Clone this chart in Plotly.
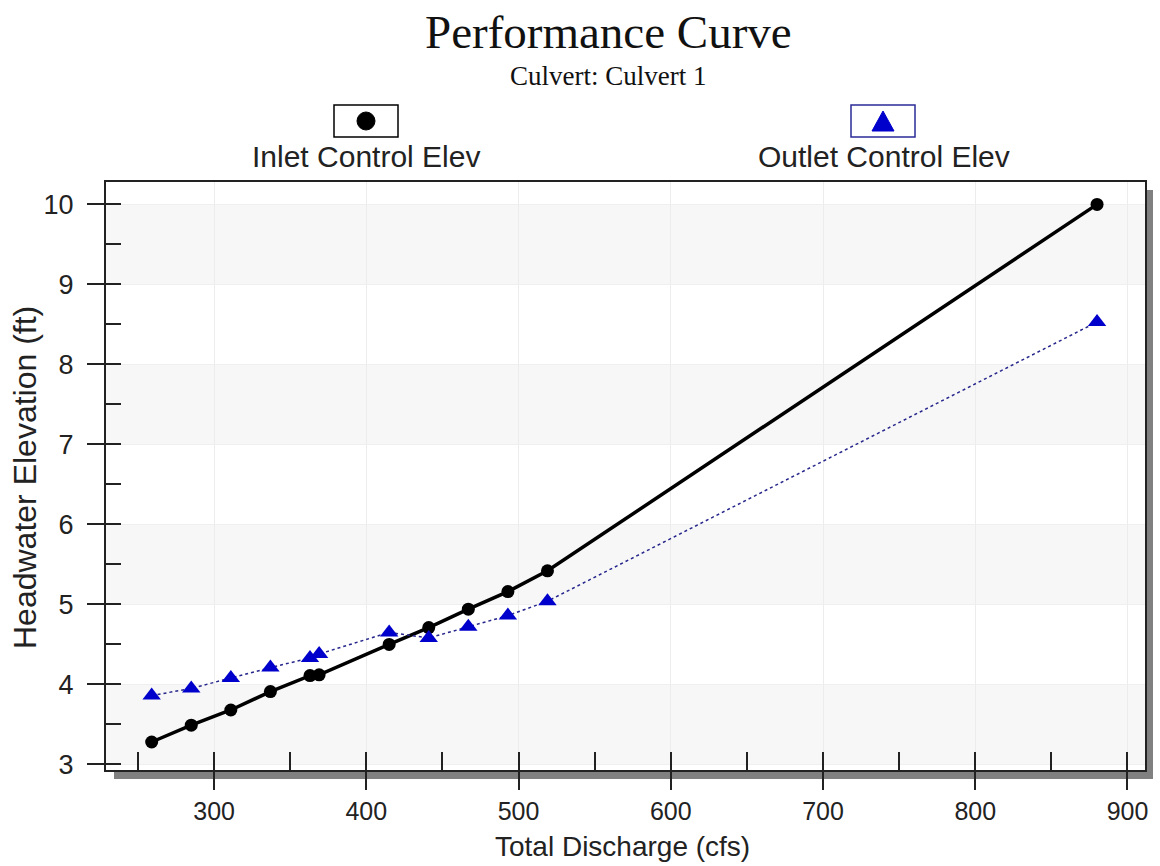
import plotly.graph_objects as go

# ---- data ----
discharge = [259, 285, 311, 337, 363, 369, 415, 441, 467, 493, 519, 880]
inlet_elev = [3.28, 3.49, 3.68, 3.91, 4.11, 4.12, 4.50, 4.71, 4.94, 5.16, 5.42, 10.0]
outlet_elev = [3.86, 3.95, 4.08, 4.21, 4.33, 4.38, 4.65, 4.58, 4.72, 4.86, 5.04, 8.53]
y_ticks = [3, 4, 5, 6, 7, 8, 9, 10]
x_ticks = [300, 400, 500, 600, 700, 800, 900]

W, H = 1160, 866
L, R, T, B = 106, 15, 182, 96
pw, ph = W - L - R, H - T - B

SANS = "Liberation Sans, Arial, sans-serif"
SERIF = "Liberation Serif, Times New Roman, serif"


def px(x):
    return (x - L) / pw


def py(y):
    return (H - B - y) / ph


fig = go.Figure()
fig.add_trace(go.Scatter(
    x=discharge, y=inlet_elev, mode="lines+markers", name="Inlet Control Elev",
    line=dict(color="black", width=3.5),
    marker=dict(symbol="circle", size=13, color="black"),
))
fig.add_trace(go.Scatter(
    x=discharge, y=outlet_elev, mode="lines+markers", name="Outlet Control Elev",
    line=dict(color="#26268c", width=1.5, dash="dot"),
    marker=dict(symbol="triangle-up", size=16, color="#0000cc"),
))

shapes = []
# drop shadow
shapes.append(dict(type="rect", xref="paper", yref="paper", layer="below",
                   x0=px(L + 8), x1=px(L + pw + 8), y0=py(T + 8), y1=py(T + ph + 9),
                   fillcolor="#808080", line=dict(width=0)))
shapes.append(dict(type="rect", xref="paper", yref="paper", layer="below",
                   x0=0, x1=1, y0=0, y1=1, fillcolor="white", line=dict(width=0)))
# alternating bands
for i in range(0, len(y_ticks) - 1, 2):
    shapes.append(dict(type="rect", xref="paper", yref="y", layer="below",
                       x0=0, x1=1, y0=y_ticks[i], y1=y_ticks[i + 1],
                       fillcolor="#f7f7f7", line=dict(width=0)))
# legend boxes
shapes.append(dict(type="rect", xref="paper", yref="paper",
                   x0=px(334), x1=px(398), y0=py(137), y1=py(105),
                   fillcolor="white", line=dict(color="black", width=1.5)))
shapes.append(dict(type="circle", xref="paper", yref="paper",
                   x0=px(357), x1=px(375), y0=py(130), y1=py(112),
                   fillcolor="black", line=dict(color="black", width=1)))
shapes.append(dict(type="rect", xref="paper", yref="paper",
                   x0=px(851), x1=px(915), y0=py(137), y1=py(105),
                   fillcolor="white", line=dict(color="#2b2b99", width=1.5)))
shapes.append(dict(type="path", xref="paper", yref="paper",
                   path=f"M {px(872)} {py(131)} L {px(894)} {py(131)} L {px(883)} {py(111)} Z",
                   fillcolor="#0000cc", line=dict(color="#0000cc", width=1)))

annotations = [
    dict(text="Performance Curve", x=px(608), y=py(32), xref="paper", yref="paper",
         showarrow=False, xanchor="center", yanchor="middle",
         font=dict(family=SERIF, size=47, color="#111")),
    dict(text="Culvert: Culvert 1", x=px(608), y=py(76), xref="paper", yref="paper",
         showarrow=False, xanchor="center", yanchor="middle",
         font=dict(family=SERIF, size=27, color="#111")),
    dict(text="Inlet Control Elev", x=px(366), y=py(157), xref="paper", yref="paper",
         showarrow=False, xanchor="center", yanchor="middle",
         font=dict(family=SANS, size=30, color="#222")),
    dict(text="Outlet Control Elev", x=px(884), y=py(157), xref="paper", yref="paper",
         showarrow=False, xanchor="center", yanchor="middle",
         font=dict(family=SANS, size=30, color="#222")),
    dict(text="Total Discharge (cfs)", x=px(622), y=py(846), xref="paper", yref="paper",
         showarrow=False, xanchor="center", yanchor="middle",
         font=dict(family=SANS, size=28, color="#222")),
    dict(text="Headwater Elevation (ft)", x=px(25), y=py(478), xref="paper", yref="paper",
         showarrow=False, xanchor="center", yanchor="middle", textangle=-90,
         font=dict(family=SANS, size=32, color="#222")),
]

fig.update_layout(
    width=W, height=H,
    margin=dict(l=L, r=R, t=T, b=B, pad=0),
    paper_bgcolor="white", plot_bgcolor="white",
    showlegend=False,
    shapes=shapes, annotations=annotations,
)

fig.update_xaxes(
    range=[229, 911.5], tickvals=x_ticks, ticks="outside", ticklen=18, tickwidth=1.5,
    tickcolor="#222", showline=True, linecolor="#222", linewidth=2, mirror=True,
    showgrid=True, gridcolor="#ececec", gridwidth=1, zeroline=False, automargin=False,
    tickfont=dict(family=SANS, size=25, color="#222"),
    minor=dict(ticks="inside", ticklen=18, tickwidth=1.5, tickcolor="#222", dtick=50, tick0=250, showgrid=False),
)
fig.update_yaxes(
    range=[2.93, 10.28], tickvals=y_ticks, ticks="outside", ticklen=17, tickwidth=1.5,
    tickcolor="#222", showline=True, linecolor="#222", linewidth=2, mirror=True,
    showgrid=True, gridcolor="#efefef", gridwidth=1, zeroline=False, automargin=False,
    tickfont=dict(family=SANS, size=27, color="#222"), ticklabelstandoff=8,
    minor=dict(ticks="inside", ticklen=15, tickwidth=1.5, tickcolor="#222", dtick=0.5, tick0=3, showgrid=False),
)

fig.write_html("out.html", config={"displayModeBar": False},
               post_script="document.body.style.margin='0';document.body.style.overflow='hidden';")
